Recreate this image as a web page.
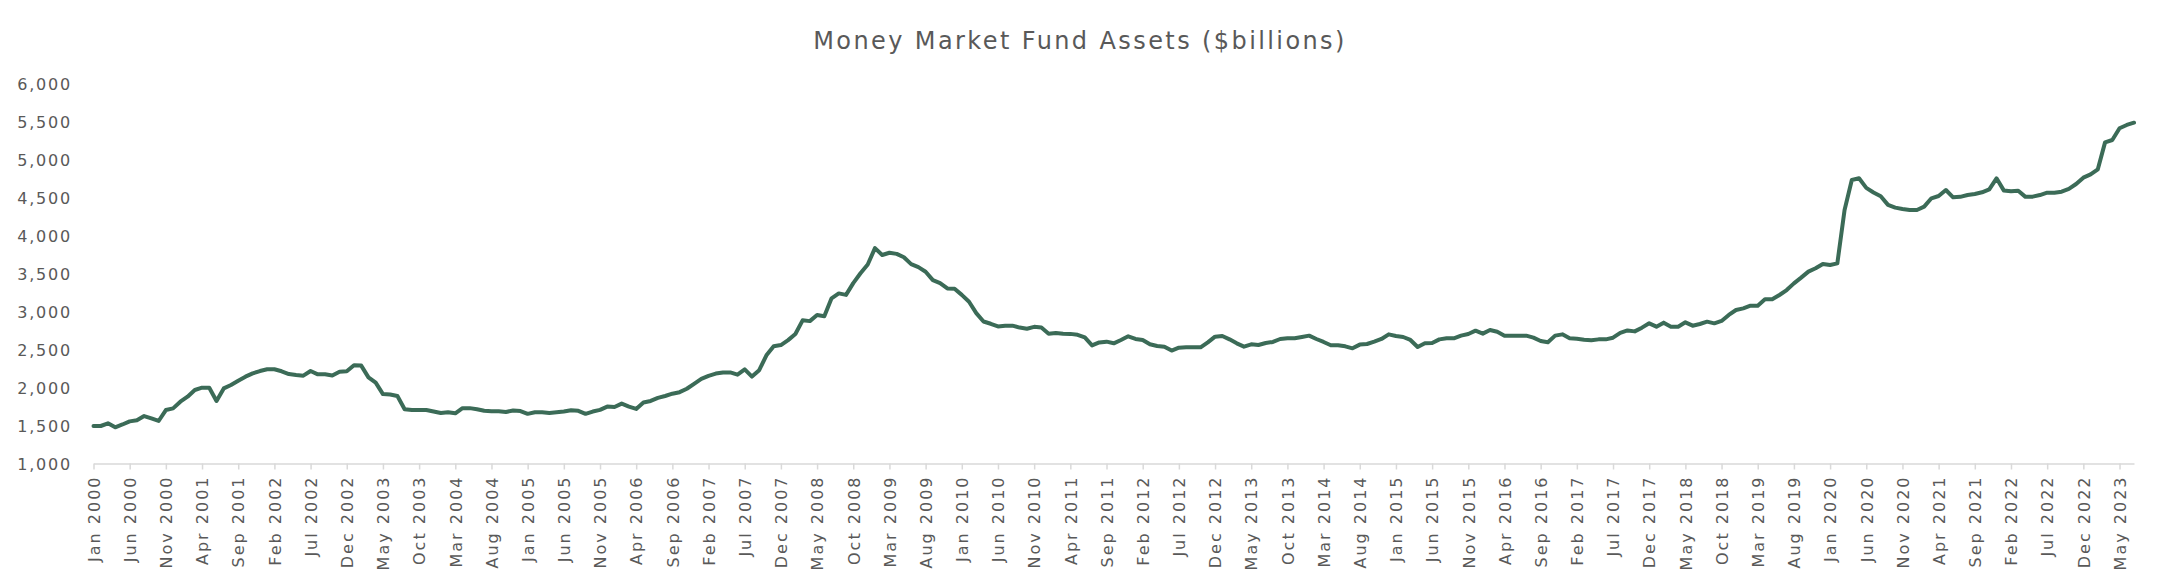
<!DOCTYPE html>
<html lang="en">
  <head>
    <meta charset="UTF-8" />
    <script src="https://d3js.org/d3.v7.min.js"></script>
    <title>Money Market Fund Assets</title>
    <style>
      body { margin: 0; background: #fff; }
      text { font-family: "DejaVu Sans", sans-serif; fill: #595959; }
    </style>
  </head>
  <body>
    <div id="chart"></div>
    <script>
      // monthly categories, Jan 2000 .. Jul 2023
      const months = d3.timeMonth.range(new Date(2000, 0, 1), new Date(2023, 7, 1));

      // money market fund assets, $billions
      const assets = [
        1500, 1500, 1535, 1483, 1520, 1561, 1575, 1631, 1600, 1566, 1710, 1732, // 2000
        1820, 1886, 1974, 2004, 2004, 1829, 1995, 2040, 2096, 2149, 2193, 2223, // 2001
        2246, 2246, 2220, 2184, 2171, 2162, 2223, 2180, 2180, 2165, 2215, 2220, // 2002
        2300, 2295, 2140, 2070, 1920, 1915, 1895, 1720, 1711, 1711, 1711, 1690, // 2003
        1670, 1680, 1667, 1735, 1735, 1720, 1700, 1693, 1693, 1685, 1705, 1697, // 2004
        1660, 1680, 1680, 1672, 1680, 1690, 1706, 1700, 1660, 1690, 1712, 1755, // 2005
        1750, 1795, 1755, 1725, 1810, 1830, 1870, 1895, 1925, 1945, 1990, 2055, // 2006
        2120, 2160, 2190, 2205, 2205, 2175, 2245, 2150, 2235, 2430, 2550, 2565, // 2007
        2630, 2710, 2890, 2880, 2960, 2945, 3180, 3245, 3225, 3380, 3510, 3625, // 2008
        3840, 3750, 3780, 3765, 3720, 3630, 3590, 3530, 3420, 3380, 3310, 3305, // 2009
        3225, 3135, 2985, 2875, 2845, 2810, 2820, 2820, 2795, 2780, 2805, 2795, // 2010
        2715, 2725, 2715, 2712, 2700, 2665, 2560, 2600, 2610, 2588, 2632, 2680, // 2011
        2645, 2632, 2575, 2553, 2544, 2492, 2531, 2535, 2535, 2535, 2601, 2675, // 2012
        2684, 2640, 2588, 2544, 2575, 2566, 2592, 2606, 2645, 2654, 2654, 2671, // 2013
        2689, 2645, 2606, 2562, 2562, 2548, 2522, 2571, 2579, 2610, 2645, 2706, // 2014
        2684, 2671, 2632, 2539, 2588, 2592, 2640, 2654, 2654, 2689, 2711, 2754, // 2015
        2715, 2763, 2741, 2689, 2689, 2689, 2689, 2662, 2618, 2601, 2689, 2706, // 2016
        2654, 2649, 2636, 2627, 2640, 2640, 2662, 2725, 2757, 2745, 2794, 2851, // 2017
        2807, 2860, 2807, 2807, 2864, 2820, 2842, 2873, 2851, 2882, 2961, 3026, // 2018
        3048, 3083, 3083, 3167, 3167, 3224, 3289, 3377, 3452, 3531, 3575, 3632, // 2019
        3618, 3640, 4342, 4737, 4759, 4633, 4572, 4522, 4410, 4373, 4355, 4342, // 2020
        4342, 4386, 4496, 4526, 4605, 4509, 4515, 4539, 4553, 4575, 4614, 4759, // 2021
        4600, 4588, 4596, 4515, 4518, 4539, 4570, 4570, 4583, 4620, 4684, 4768, // 2022
        4811, 4877, 5232, 5263, 5417, 5461, 5491                                // 2023
      ];

      const yTicks = [1000, 1500, 2000, 2500, 3000, 3500, 4000, 4500, 5000, 5500, 6000];
      const labelEvery = 5; // one label every 5 months

      const data = months.map((d, i) => ({ date: d, value: assets[i] }));

      const width = 2160;
      const height = 585;
      const plot = { left: 93.5, right: 2134, top: 84, bottom: 464 };

      const svg = d3
        .select("#chart")
        .append("svg")
        .attr("width", width)
        .attr("height", height);

      // title
      svg
        .append("text")
        .attr("x", width / 2)
        .attr("y", 49)
        .attr("text-anchor", "middle")
        .style("font-size", "24px")
        .style("letter-spacing", "2.4px")
        .text("Money Market Fund Assets ($billions)");

      const x = d3
        .scalePoint()
        .domain(months.map((d) => +d))
        .range([plot.left, plot.right]);

      const y = d3
        .scaleLinear()
        .domain([1000, 6000])
        .range([plot.bottom, plot.top]);

      // y axis (labels only)
      const yAxis = svg
        .append("g")
        .attr("transform", "translate(72,0)")
        .call(
          d3
            .axisLeft(y)
            .tickValues(yTicks)
            .tickSize(0)
            .tickPadding(0)
            .tickFormat(d3.format(","))
        );
      yAxis.select(".domain").remove();
      yAxis
        .selectAll("text")
        .style("font-size", "16px")
        .style("letter-spacing", "1.8px")
        .style("font-family", '"DejaVu Sans", sans-serif')
        .attr("fill", "#595959");

      // x axis
      const tickDates = months.filter((d, i) => i % labelEvery === 0).map((d) => +d);
      const fmt = d3.timeFormat("%b %Y");
      const xAxis = svg
        .append("g")
        .attr("transform", "translate(0," + (plot.bottom - 0.5) + ")")
        .call(
          d3
            .axisBottom(x)
            .tickValues(tickDates)
            .tickSizeInner(6)
            .tickSizeOuter(0)
            .tickFormat((d) => fmt(new Date(d)))
        );
      xAxis.select(".domain").attr("stroke", "#d9d9d9").attr("stroke-width", 1.5);
      xAxis.selectAll(".tick line").attr("stroke", "#d9d9d9").attr("stroke-width", 1.5);
      xAxis
        .selectAll(".tick text")
        .attr("transform", "rotate(-90)")
        .attr("text-anchor", "end")
        .attr("x", -12)
        .attr("y", 0)
        .attr("dy", "0.36em")
        .style("font-size", "16px")
        .style("letter-spacing", "2px")
        .style("font-family", '"DejaVu Sans", sans-serif')
        .attr("fill", "#595959");

      // line
      const line = d3
        .line()
        .x((d) => x(+d.date))
        .y((d) => y(d.value));

      svg
        .append("path")
        .datum(data)
        .attr("fill", "none")
        .attr("stroke", "#3b6b57")
        .attr("stroke-width", 4)
        .attr("stroke-linejoin", "round")
        .attr("stroke-linecap", "round")
        .attr("d", line);
    </script>
  </body>
</html>
